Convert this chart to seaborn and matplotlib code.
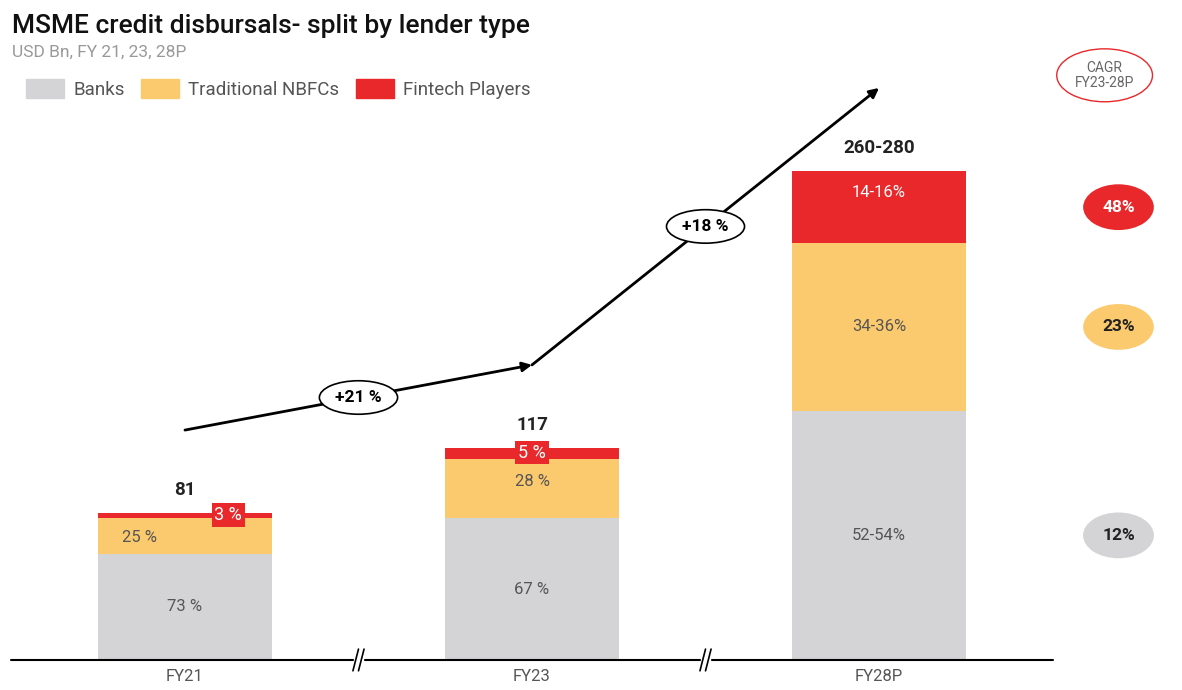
import numpy as np
import pandas as pd
import seaborn as sns
import matplotlib.pyplot as plt
from matplotlib.patches import Patch

# data
years = ["FY21", "FY23", "FY28P"]
totals = [81, 117, 270]
total_labels = ["81", "117", "260-280"]
bank_share = [73, 67, 52]
nbfc_share = [25, 28, 35]
fintech_share = [3, 5, 15]
bank_labels = ["73 %", "67 %", "52-54%"]
nbfc_labels = ["25 %", "28 %", "34-36%"]
fintech_labels = ["3 %", "5 %", "14-16%"]
growth_labels = ["+21 %", "+18 %"]
cagr_labels = ["12%", "23%", "48%"]

GREY = "#d4d4d6"
ORANGE = "#fcca6e"
RED = "#e8282b"
TXT = "#555555"

sns.set_theme(style="white")
plt.rcParams['font.family'] = ['Roboto', 'DejaVu Sans']

shares = np.array([bank_share, nbfc_share, fintech_share], dtype=float)
shares = shares / shares.sum(axis=0)
tot = np.array(totals, dtype=float)
banks = tot * shares[0]
nbfc = tot * shares[1]
fin = tot * shares[2]

df = pd.DataFrame({"year": years, "total": tot, "bn": banks + nbfc, "banks": banks})

fig = plt.figure(figsize=(11.82, 6.90), dpi=100)
ax = fig.add_axes([0, 0, 1, 1])

sns.barplot(data=df, x="year", y="total", color=RED, width=0.5, saturation=1, ax=ax, linewidth=0)
sns.barplot(data=df, x="year", y="bn", color=ORANGE, width=0.5, saturation=1, ax=ax, linewidth=0)
sns.barplot(data=df, x="year", y="banks", color=GREY, width=0.5, saturation=1, ax=ax, linewidth=0)

ax.set_xlim(-0.533, 2.873)
ax.set_ylim(-16.6, 364.6)
ax.axis('off')

# baseline with break marks
ax.plot([-0.5, 2.5], [0, 0], color="black", lw=1.5, zorder=5)
for xb in [0.5, 1.5]:
    ax.add_patch(plt.Rectangle((xb - 0.012, -6), 0.024, 12, color="white", zorder=6))
    for dx in [-0.008, 0.008]:
        ax.plot([xb + dx - 0.008, xb + dx + 0.008], [-6, 6], color="black", lw=1.2, zorder=7)

for i, y in enumerate(years):
    ax.text(i, -9, y, ha="center", va="center", fontsize=12, color=TXT)
    ax.text(i, tot[i] + 8, total_labels[i], ha="center", va="bottom", fontsize=13.5,
            fontweight="bold", color="#222222")
    ax.text(i, banks[i] / 2, bank_labels[i], ha="center", va="center", fontsize=12, color=TXT)

# segment labels
ax.text(-0.13, banks[0] + nbfc[0] / 2 - 1, nbfc_labels[0], ha="center", va="center", fontsize=12, color=TXT)
ax.text(1, banks[1] + nbfc[1] / 2 + 4, nbfc_labels[1], ha="center", va="center", fontsize=12, color=TXT)
ax.text(2, banks[2] + nbfc[2] / 2, nbfc_labels[2], ha="center", va="center", fontsize=12, color=TXT)
ax.text(0.125, tot[0] - 1, fintech_labels[0], ha="center", va="center", fontsize=13, color="white",
        bbox=dict(boxstyle="square,pad=0.15", fc=RED, ec="none"))
ax.text(1, tot[1] - 2.5, fintech_labels[1], ha="center", va="center", fontsize=13, color="white",
        bbox=dict(boxstyle="square,pad=0.15", fc=RED, ec="none"))
ax.text(2, tot[2] - fin[2] / 2 + 8, fintech_labels[2], ha="center", va="center", fontsize=12, color="white")

# growth arrow
gx = [0, 1, 2]
gy = tot + 46
for k in range(2):
    ax.annotate("", xy=(gx[k + 1], gy[k + 1]), xytext=(gx[k], gy[k]),
                arrowprops=dict(arrowstyle="-|>", color="black", lw=2, mutation_scale=14,
                                shrinkA=0, shrinkB=0))
    ax.text((gx[k] + gx[k + 1]) / 2, (gy[k] + gy[k + 1]) / 2, growth_labels[k], ha="center", va="center",
            fontsize=12.5, fontweight="bold", color="black",
            bbox=dict(boxstyle="ellipse,pad=0.25", fc="white", ec="black", lw=1.2))

# CAGR column
xc = 2.69
ax.text(xc - 0.04, 323, "CAGR\nFY23-28P", ha="center", va="center", fontsize=10, color="#666666",
        linespacing=1.1, bbox=dict(boxstyle="ellipse,pad=0.3", fc="white", ec=RED, lw=1))
mids = [banks[2] / 2, banks[2] + nbfc[2] / 2, banks[2] + nbfc[2] + fin[2] / 2]
pill_fc = [GREY, ORANGE, RED]
pill_tc = ["#222222", "#222222", "white"]
for m, lab, fc, tc in zip(mids, cagr_labels, pill_fc, pill_tc):
    ax.text(xc, m, lab, ha="center", va="center", fontsize=12.5, fontweight="bold", color=tc,
            bbox=dict(boxstyle="ellipse,pad=0.5", fc=fc, ec="none"))

# titles and legend
fig.text(0.010, 0.963, "MSME credit disbursals- split by lender type", fontsize=19, color="#111111",
         fontweight="medium", ha="left", va="center")
fig.text(0.010, 0.924, "USD Bn, FY 21, 23, 28P", fontsize=12.5, color="#999999", ha="left", va="center")
handles = [Patch(color=GREY, label="Banks"), Patch(color=ORANGE, label="Traditional NBFCs"),
           Patch(color=RED, label="Fintech Players")]
leg = fig.legend(handles=handles, loc="center left", bbox_to_anchor=(0.008, 0.871), ncol=3, frameon=False,
                 fontsize=13.5, handlelength=2.0, handleheight=1.2, handletextpad=0.5, columnspacing=0.9)
for t in leg.get_texts():
    t.set_color(TXT)

fig.savefig("out.png", dpi=100)
